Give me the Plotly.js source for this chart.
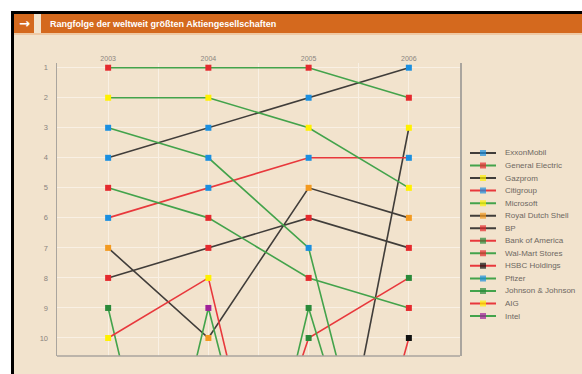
<!DOCTYPE html>
<html>
<head>
<meta charset="utf-8">
<script src="https://cdn.plot.ly/plotly-3.0.1.min.js"></script>
<style>html,body{margin:0;padding:0;background:#fff;}#chart{width:582px;height:374px;}</style>
</head>
<body>
<div id="chart"></div>
<script>
// ---- data ----
const years = [2003, 2004, 2005, 2006];
const yearLabels = ['2003', '2004', '2005', '2006'];
const rankLabels = ['1','2','3','4','5','6','7','8','9','10'];
const rankValues = [1,2,3,4,5,6,7,8,9,10];
const companies = ['ExxonMobil','General Electric','Gazprom','Citigroup','Microsoft','Royal Dutch Shell','BP','Bank of America','Wal-Mart Stores','HSBC Holdings','Pfizer','Johnson & Johnson','AIG','Intel'];
// ranks per year (values above 10 are outside the top ten, estimated from the line slopes)
const exxonMobil      = [4, 3, 2, 1];
const generalElectric = [1, 1, 1, 2];
const gazprom         = [null, null, 20, 3];
const citigroup       = [6, 5, 4, 4];
const microsoft       = [2, 2, 3, 5];
const royalDutchShell = [7, 10, 5, 6];
const bp              = [8, 7, 6, 7];
const bankOfAmerica   = [null, 20, 10, 8];
const walMart         = [5, 6, 8, 9];
const hsbc            = [null, null, 22, 10];
const pfizer          = [3, 4, 7, 20];
const johnsonJohnson  = [9, 23, 9, 20];
const aig             = [10, 8, 22, null];
const intel           = [23, 9, 22, null];
const seriesValues = [exxonMobil, generalElectric, gazprom, citigroup, microsoft, royalDutchShell, bp, bankOfAmerica, walMart, hsbc, pfizer, johnsonJohnson, aig, intel];

// ---- styles ----
const BLACK = '#403d3a', GREEN = '#43a34b', RED = '#e8383c';
const lineColors = [BLACK, GREEN, BLACK, RED, GREEN, BLACK, BLACK, RED, GREEN, RED, GREEN, GREEN, RED, GREEN];
const mBlue = '#1b8fe0', mRed = '#e52a2e', mYellow = '#fff000', mOrange = '#f39a20', mGreen = '#2a8a3a', mBlack = '#111111', mPurple = '#a0209a';
const markerColors = [mBlue, mRed, mYellow, mBlue, mYellow, mOrange, mRed, mGreen, mRed, mBlack, mBlue, mGreen, mYellow, mPurple];

const W = 582, H = 374;
const px = x => x / W;
const py = y => 1 - y / H;

const traces = [];
companies.forEach((name, i) => {
  traces.push({
    type: 'scatter', mode: 'lines+markers', name: name,
    x: years, y: seriesValues[i], xaxis: 'x', yaxis: 'y',
    line: {color: lineColors[i], width: 1.6},
    marker: {symbol: 'square', size: 6, color: markerColors[i], line: {width: 0}},
    cliponaxis: true, connectgaps: false, showlegend: false, hoverinfo: 'skip'
  });
});
// custom compact legend
companies.forEach((name, i) => {
  traces.push({
    type: 'scatter', mode: 'lines+markers',
    x: [0, 0.5, 1], y: [i, i, i], xaxis: 'x2', yaxis: 'y2',
    line: {color: lineColors[i], width: 2},
    marker: {symbol: 'square', size: [0, 6, 0], color: markerColors[i], line: {width: 0}},
    showlegend: false, hoverinfo: 'skip'
  });
});

const FONT = '"Liberation Sans Narrow", "Liberation Sans", Arial, sans-serif';
const annotations = companies.map((name, i) => ({
  xref: 'paper', yref: 'y2', x: px(503), y: i, xanchor: 'left', yanchor: 'middle',
  text: name, showarrow: false, font: {family: FONT, size: 8, color: '#6e6862'}
}));
annotations.push({
  xref: 'paper', yref: 'paper', x: px(48), y: py(23.5), xanchor: 'left', yanchor: 'middle',
  text: '<b>Rangfolge der weltweit größten Aktiengesellschaften</b>', showarrow: false,
  font: {family: FONT, size: 9, color: '#ffffff'}
});
annotations.push({
  xref: 'paper', yref: 'paper', x: px(24), y: py(23), xanchor: 'center', yanchor: 'middle',
  text: '<b>→</b>', showarrow: false, font: {family: 'DejaVu Sans, sans-serif', size: 13, color: '#ffffff'}
});

const rect = (x0, y0, x1, y1, color) => ({
  type: 'rect', xref: 'paper', yref: 'paper', layer: 'below',
  x0: px(x0), x1: px(x1), y0: py(y1), y1: py(y0), line: {width: 0}, fillcolor: color
});
const shapes = [
  rect(11, 11, 582, 374, '#f2e3cd'),
  rect(11, 11, 582, 14, '#000000'),
  rect(11, 11, 14, 374, '#000000'),
  rect(14, 14, 34, 33, '#d4691e'),
  rect(41, 14, 582, 33, '#d4691e'),
  rect(14, 33, 582, 35, '#efc9a4'),
  {type: 'line', xref: 'paper', yref: 'paper', layer: 'above',
   x0: px(57), x1: px(460), y0: py(356), y1: py(356), line: {color: '#aaa59e', width: 1.5}}
];

const layout = {
  width: W, height: H,
  margin: {l: 0, r: 0, t: 0, b: 0, pad: 0},
  paper_bgcolor: '#ffffff', plot_bgcolor: 'rgba(0,0,0,0)',
  showlegend: false,
  xaxis: {
    domain: [px(57), px(460)], range: [2002.49, 2006.51], side: 'top', anchor: 'y',
    tickvals: [2003, 2003.5, 2004, 2004.5, 2005, 2005.5, 2006],
    ticktext: [yearLabels[0], '', yearLabels[1], '', yearLabels[2], '', yearLabels[3]],
    showgrid: true, gridcolor: '#f9f0e4', gridwidth: 1, zeroline: false, showline: false,
    ticks: '', tickfont: {family: FONT, size: 7, color: '#8a847e'}, fixedrange: true
  },
  yaxis: {
    domain: [1 - 356 / H, 1 - 63 / H], range: [10.6, 0.843], anchor: 'x',
    tickvals: rankValues, ticktext: rankLabels,
    showgrid: true, gridcolor: '#f9f0e4', gridwidth: 1, zeroline: false,
    showline: true, mirror: true, linecolor: '#aaa59e', linewidth: 1.5,
    ticks: 'outside', ticklen: 6, tickcolor: 'rgba(0,0,0,0)',
    tickfont: {family: FONT, size: 7.5, color: '#8a847e'}, fixedrange: true
  },
  xaxis2: {domain: [px(470), px(496)], range: [0, 1], anchor: 'y2', visible: false, fixedrange: true},
  yaxis2: {domain: [1 - 322.3 / H, 1 - 146.7 / H], range: [13.5, -0.5], anchor: 'x2', visible: false, fixedrange: true},
  shapes: shapes,
  annotations: annotations
};

Plotly.newPlot('chart', traces, layout, {staticPlot: true, displayModeBar: false});
</script>
</body>
</html>
